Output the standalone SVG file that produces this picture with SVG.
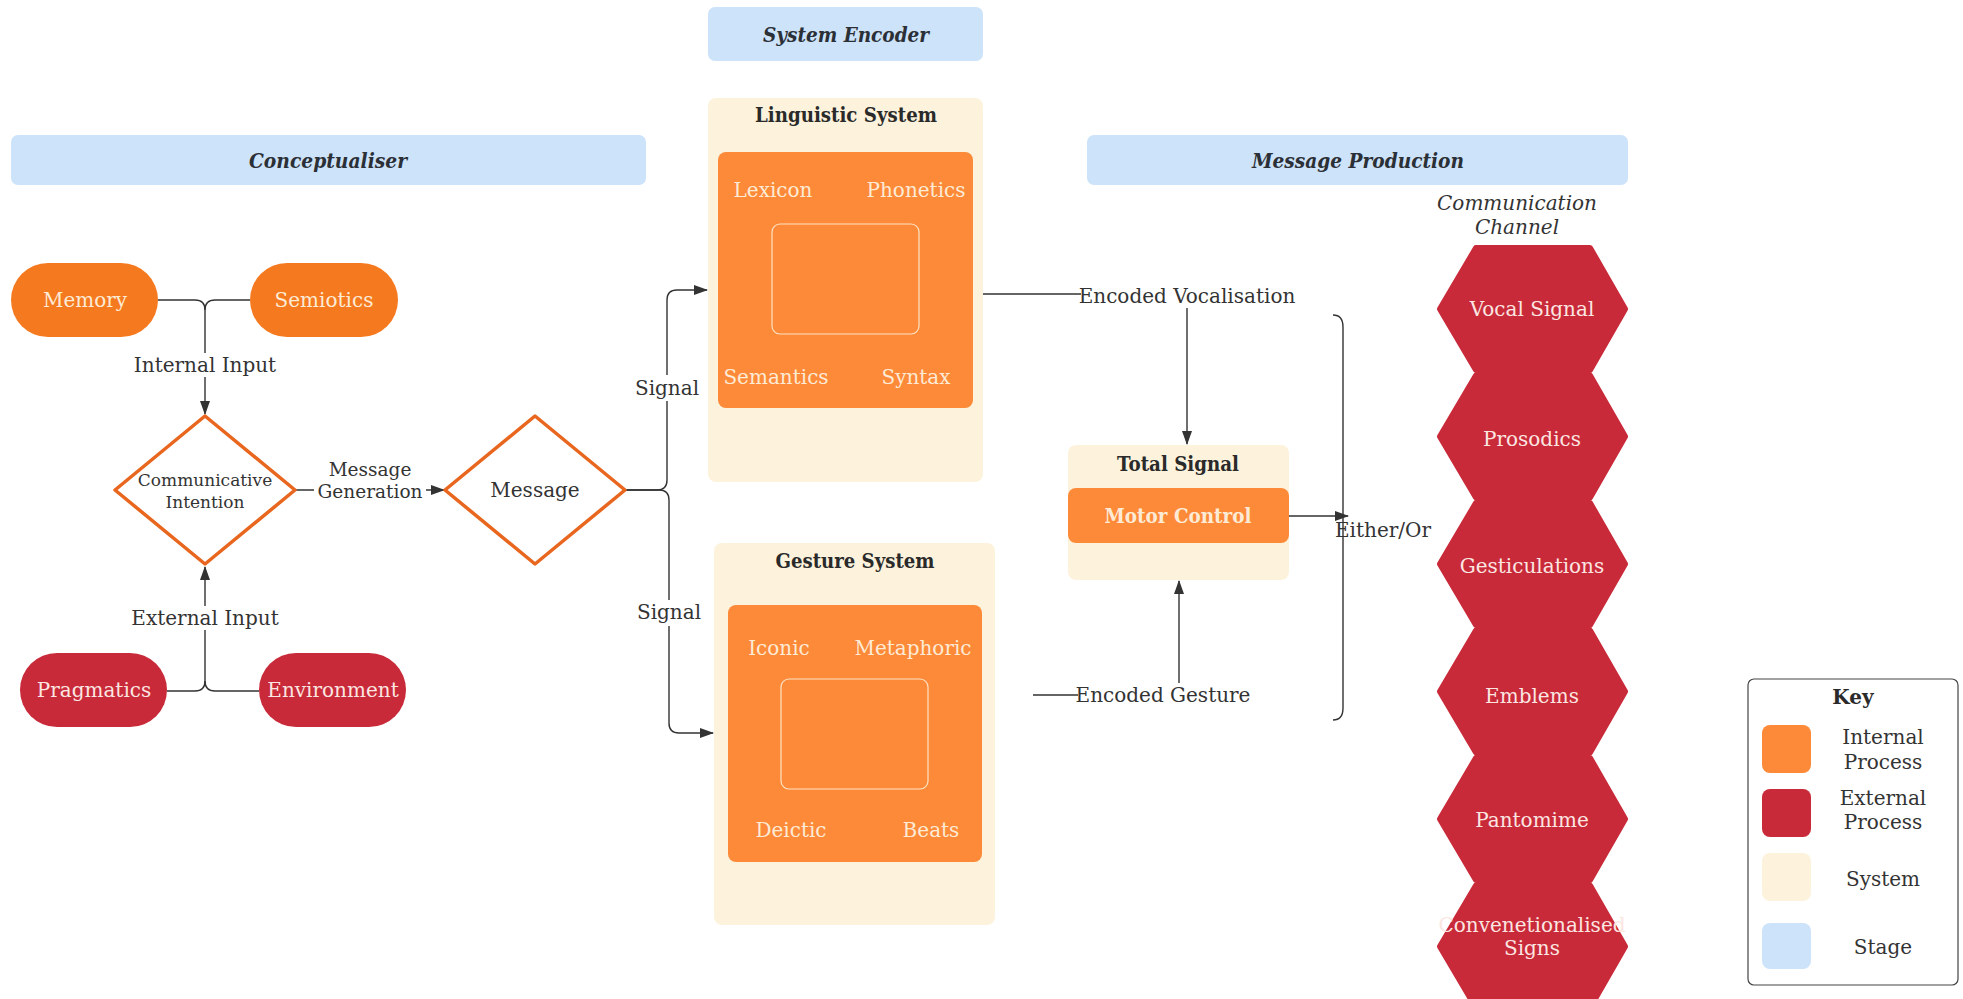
<svg xmlns="http://www.w3.org/2000/svg" width="1963" height="999" viewBox="0 0 1963 999">
<style>
text{font-family:"DejaVu Serif","Liberation Serif",serif;font-size:20px;fill:#333;text-anchor:middle;dominant-baseline:central}
.stage{fill:#CDE3F9}
.stagetxt{font-weight:bold;font-style:italic;font-size:21px;fill:#2b2f36}
.sys{fill:#FDF3DC}
.systxt{font-weight:bold;fill:#2a2a2a}
.inner{fill:#FD8A38}
.innerline{fill:none;stroke:#FDE3C4;stroke-width:1.2}
.lt{fill:#FDEBD6}
.pillo{fill:#F57A1F}
.red{fill:#C92A39}
.redtxt{fill:#FBE6E2}
.dia{fill:#fff;stroke:#E8661E;stroke-width:3.5;stroke-linejoin:round}
.con{fill:none;stroke:#333;stroke-width:1.4}
.bg{fill:#fff}
.hex{fill:#C92A39;stroke:#C92A39;stroke-width:6;stroke-linejoin:round}
</style>
<defs>
<marker id="arr" markerWidth="14" markerHeight="10" refX="13" refY="5" orient="auto" markerUnits="userSpaceOnUse">
<path d="M0,0 L14,5 L0,10 Z" fill="#333"/>
</marker>
</defs>

<g id="stages">
<g id="stage-conceptualiser"><rect class="stage" x="11" y="135" width="635" height="50" rx="7"/><text class="stagetxt" x="328" y="160" textLength="158" lengthAdjust="spacingAndGlyphs">Conceptualiser</text></g>
<g id="stage-encoder"><rect class="stage" x="708" y="7" width="275" height="54" rx="7"/><text class="stagetxt" x="846" y="34" textLength="166" lengthAdjust="spacingAndGlyphs">System Encoder</text></g>
<g id="stage-production"><rect class="stage" x="1087" y="135" width="541" height="50" rx="7"/><text class="stagetxt" x="1358" y="160" textLength="212" lengthAdjust="spacingAndGlyphs">Message Production</text></g>
</g>

<g id="connectors">
<path class="con" d="M158,300 H195 Q205,300 205,310 V414" marker-end="url(#arr)"/>
<path class="con" d="M250,300 H215 Q205,300 205,310"/>
<path class="con" d="M167,691 H195 Q205,691 205,681 V567" marker-end="url(#arr)"/>
<path class="con" d="M259,691 H215 Q205,691 205,681"/>
<path class="con" d="M295,490 H444" marker-end="url(#arr)"/>
<path class="con" d="M625,490 H657 Q667,490 667,480 V300 Q667,290 677,290 H707" marker-end="url(#arr)"/>
<path class="con" d="M625,490 H659 Q669,490 669,500 V723 Q669,733 679,733 H713" marker-end="url(#arr)"/>
<path class="con" d="M983,294 H1187 V444" marker-end="url(#arr)"/>
<path class="con" d="M1033,695 H1179 V581" marker-end="url(#arr)"/>
<path class="con" d="M1289,516 H1348" marker-end="url(#arr)"/>
<path class="con" d="M1333,315 Q1343,315 1343,327 V708 Q1343,720 1333,720"/>
<rect class="bg" x="133" y="353" width="144" height="24"/>
<text x="205" y="365">Internal Input</text>
<rect class="bg" x="132" y="606" width="146" height="24"/>
<text x="205" y="618">External Input</text>
<rect class="bg" x="314" y="460" width="112" height="41"/>
<text x="370" y="469" style="font-size:18.5px">Message</text>
<text x="370" y="491" style="font-size:18.5px">Generation</text>
<rect class="bg" x="635" y="375" width="64" height="26"/>
<text x="667" y="388">Signal</text>
<rect class="bg" x="637" y="600" width="64" height="26"/>
<text x="669" y="612">Signal</text>
<rect class="bg" x="1081" y="283" width="213" height="25"/>
<text x="1187" y="296">Encoded Vocalisation</text>
<rect class="bg" x="1078" y="683" width="170" height="25"/>
<text x="1163" y="695">Encoded Gesture</text>
<text x="1383" y="530">Either/Or</text>
</g>

<g id="memory"><rect class="pillo" x="11" y="263" width="147" height="74" rx="37"/><text class="lt" x="85" y="300">Memory</text></g>
<g id="semiotics"><rect class="pillo" x="250" y="263" width="148" height="74" rx="37"/><text class="lt" x="324" y="300">Semiotics</text></g>
<g id="pragmatics"><rect class="red" x="20" y="653" width="147" height="74" rx="37"/><text class="redtxt" x="94" y="690">Pragmatics</text></g>
<g id="environment"><rect class="red" x="259" y="653" width="147" height="74" rx="37"/><text class="redtxt" x="333" y="690">Environment</text></g>

<g id="communicative-intention">
<path class="dia" d="M205,416 L295,490 L205,564 L115,490 Z"/>
<text x="205" y="480" style="font-size:17px">Communicative</text>
<text x="205" y="502" style="font-size:17px">Intention</text>
</g>
<g id="message">
<path class="dia" d="M535,416 L625,490 L535,564 L445,490 Z"/>
<text x="535" y="490">Message</text>
</g>

<g id="linguistic-system">
<rect class="sys" x="708" y="98" width="275" height="384" rx="8"/>
<text class="systxt" x="846" y="115" textLength="182" lengthAdjust="spacingAndGlyphs">Linguistic System</text>
<rect class="inner" x="718" y="152" width="255" height="256" rx="8"/>
<rect class="innerline" x="772" y="224" width="147" height="110" rx="8"/>
<text class="lt" x="773" y="190">Lexicon</text>
<text class="lt" x="916" y="190">Phonetics</text>
<text class="lt" x="776" y="377">Semantics</text>
<text class="lt" x="916" y="377">Syntax</text>
</g>

<g id="gesture-system">
<rect class="sys" x="714" y="543" width="281" height="382" rx="8"/>
<text class="systxt" x="855" y="561" textLength="159" lengthAdjust="spacingAndGlyphs">Gesture System</text>
<rect class="inner" x="728" y="605" width="254" height="257" rx="8"/>
<rect class="innerline" x="781" y="679" width="147" height="110" rx="8"/>
<text class="lt" x="779" y="648">Iconic</text>
<text class="lt" x="913" y="648">Metaphoric</text>
<text class="lt" x="791" y="830">Deictic</text>
<text class="lt" x="931" y="830">Beats</text>
</g>

<g id="total-signal">
<rect class="sys" x="1068" y="445" width="221" height="135" rx="8"/>
<text class="systxt" x="1178" y="464" textLength="122" lengthAdjust="spacingAndGlyphs">Total Signal</text>
<rect class="inner" x="1068" y="488" width="221" height="55" rx="8"/>
<text class="lt" x="1178" y="516" style="font-weight:bold" textLength="147" lengthAdjust="spacingAndGlyphs">Motor Control</text>
</g>

<g id="communication-channel">
<text x="1517" y="203" style="font-style:italic">Communication</text>
<text x="1517" y="227" style="font-style:italic">Channel</text>
<g id="vocal-signal"><path class="hex" d="M1476,248 H1590 L1625,309 L1590,370 H1476 L1440,309 Z"/><text class="redtxt" x="1532" y="309">Vocal Signal</text></g>
<g id="prosodics"><path class="hex" d="M1476,375.5 H1590 L1625,436.5 L1590,497.5 H1476 L1440,436.5 Z"/><text class="redtxt" x="1532" y="439">Prosodics</text></g>
<g id="gesticulations"><path class="hex" d="M1476,503 H1590 L1625,564 L1590,625 H1476 L1440,564 Z"/><text class="redtxt" x="1532" y="566">Gesticulations</text></g>
<g id="emblems"><path class="hex" d="M1476,630.5 H1590 L1625,691.5 L1590,752.5 H1476 L1440,691.5 Z"/><text class="redtxt" x="1532" y="696">Emblems</text></g>
<g id="pantomime"><path class="hex" d="M1476,758 H1590 L1625,819 L1590,880 H1476 L1440,819 Z"/><text class="redtxt" x="1532" y="820">Pantomime</text></g>
<g id="conventionalised-signs"><path class="hex" d="M1476,885.5 H1590 L1625,946.5 L1590,1007.5 H1476 L1440,946.5 Z"/><text class="redtxt" x="1532" y="925">Convenetionalised</text><text class="redtxt" x="1532" y="948">Signs</text></g>
</g>

<g id="key">
<rect x="1748" y="679" width="210" height="306" rx="6" fill="#fff" stroke="#444" stroke-width="1.2"/>
<text class="systxt" x="1853" y="697">Key</text>
<rect x="1762" y="725" width="49" height="48" rx="8" fill="#FD8A38"/>
<rect x="1762" y="789" width="49" height="48" rx="8" fill="#C92A39"/>
<rect x="1762" y="853" width="49" height="48" rx="8" fill="#FDF3DC"/>
<rect x="1762" y="923" width="49" height="46" rx="8" fill="#CDE3F9"/>
<text x="1883" y="737">Internal</text>
<text x="1883" y="762">Process</text>
<text x="1883" y="798">External</text>
<text x="1883" y="822">Process</text>
<text x="1883" y="879">System</text>
<text x="1883" y="947">Stage</text>
</g>
</svg>
